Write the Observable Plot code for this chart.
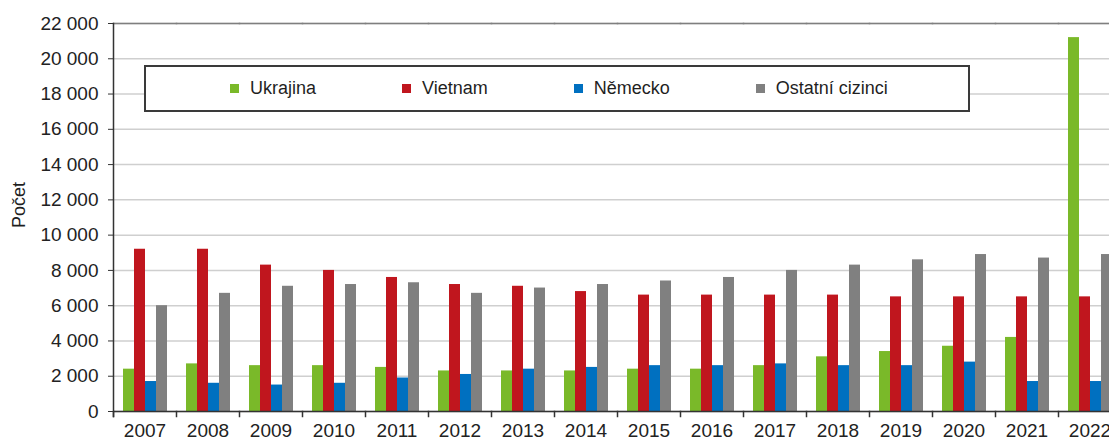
<!DOCTYPE html>
<html>
<head>
<meta charset="utf-8">
<script src="https://cdn.jsdelivr.net/npm/d3@7"></script>
<script src="https://cdn.jsdelivr.net/npm/@observablehq/plot@0.6"></script>
<style>
  html, body { margin: 0; padding: 0; background: #fff; overflow: hidden; }
  #wrap { position: relative; width: 1109px; height: 441px; overflow: hidden;
          font-family: "Liberation Sans", Arial, sans-serif; }
  #chart { position: absolute; left: 0; top: 0; width: 1123px; }
  #chart svg { max-width: none !important; display: block; }
  #legend { position: absolute; left: 144px; top: 65px; width: 826px; height: 47px;
            box-sizing: border-box; border: 2px solid #3a3a3a; background: #fff;
            display: flex; align-items: center; padding-left: 84px; white-space: nowrap; }
  .item { display: flex; align-items: center; margin-right: 86px; font-size: 18px; color: #1f1f1f; flex: none; }
  .item:last-child { margin-right: 0; }
  .sw { width: 9px; height: 9px; margin-right: 11px; }
  #ylabel { position: absolute; left: 19px; top: 205px; transform: translate(-50%, -50%) rotate(-90deg);
            font-size: 18px; color: #1f1f1f; white-space: nowrap; }
</style>
</head>
<body>
<div id="wrap">
  <div id="chart"></div>
  <div id="legend"></div>
  <div id="ylabel"></div>
</div>
<script>
const years = ["2007","2008","2009","2010","2011","2012","2013","2014","2015","2016","2017","2018","2019","2020","2021","2022"];
const seriesNames = ["Ukrajina", "Vietnam", "Německo", "Ostatní cizinci"];
const ukrajina = [2400, 2700, 2600, 2600, 2500, 2300, 2300, 2300, 2400, 2400, 2600, 3100, 3400, 3700, 4200, 21200];
const vietnam  = [9200, 9200, 8300, 8000, 7600, 7200, 7100, 6800, 6600, 6600, 6600, 6600, 6500, 6500, 6500, 6500];
const nemecko  = [1700, 1600, 1500, 1600, 1900, 2100, 2400, 2500, 2600, 2600, 2700, 2600, 2600, 2800, 1700, 1700];
const ostatni  = [6000, 6700, 7100, 7200, 7300, 6700, 7000, 7200, 7400, 7600, 8000, 8300, 8600, 8900, 8700, 8900];
const colors = ["#7ab929", "#c0161e", "#0070c0", "#808080"];
const yTicks = [0, 2000, 4000, 6000, 8000, 10000, 12000, 14000, 16000, 18000, 20000, 22000];
const yLabel = "Počet";

const valuesBySeries = [ukrajina, vietnam, nemecko, ostatni];
const data = years.flatMap((yr, i) => seriesNames.map((s, j) => ({year: yr, series: s, value: valuesBySeries[j][i]})));

const W = 1123, H = 441, mT = 23, mB = 30, mL = 112, mR = 1;
const fmt = d => d3.format(",")(d).replace(/,/g, " ");
const font = "'Liberation Sans', Arial, sans-serif";

const chart = Plot.plot({
  width: W, height: H,
  marginTop: mT, marginBottom: mB, marginLeft: mL, marginRight: mR,
  style: {fontFamily: font, fontSize: "19px", color: "#222", background: "transparent", maxWidth: "none"},
  fx: {domain: years, padding: 0, label: null},
  x: {domain: seriesNames, paddingInner: 0, paddingOuter: 0.63, axis: null},
  y: {domain: [0, 22000]},
  color: {domain: seriesNames, range: colors},
  marks: [
    Plot.gridY(yTicks, {stroke: "#cfcfcf", strokeOpacity: 1, strokeWidth: 1.5}),
    Plot.barY(data, {fx: "year", x: "series", y: "value", fill: "series"}),
    Plot.frame({anchor: "top", stroke: "#7f7f7f", strokeWidth: 1.5}),
    Plot.ruleY([0], {stroke: "#333", strokeWidth: 1.5}),
    Plot.frame({anchor: "left", facetAnchor: "left", stroke: "#333", strokeWidth: 1.5, insetBottom: -5}),
    Plot.frame({anchor: "left", stroke: "#333", strokeWidth: 1.5, insetTop: H - mT - mB, insetBottom: -5}),
    Plot.axisY({ticks: yTicks, tickFormat: fmt, tickSize: 5, tickPadding: 10, label: null,
                fontSize: 19, stroke: "#333", fill: "#222"}),
    Plot.axisFx({anchor: "bottom", tickSize: 0, tickPadding: 12, label: null, fontSize: 19, fill: "#222"})
  ]
});
document.getElementById("chart").appendChild(chart);

const legend = document.getElementById("legend");
seriesNames.forEach((s, i) => {
  const it = document.createElement("div");
  it.className = "item";
  const sw = document.createElement("span");
  sw.className = "sw";
  sw.style.background = colors[i];
  const tx = document.createElement("span");
  tx.textContent = s;
  it.appendChild(sw); it.appendChild(tx);
  legend.appendChild(it);
});
document.getElementById("ylabel").textContent = yLabel;
</script>
</body>
</html>
